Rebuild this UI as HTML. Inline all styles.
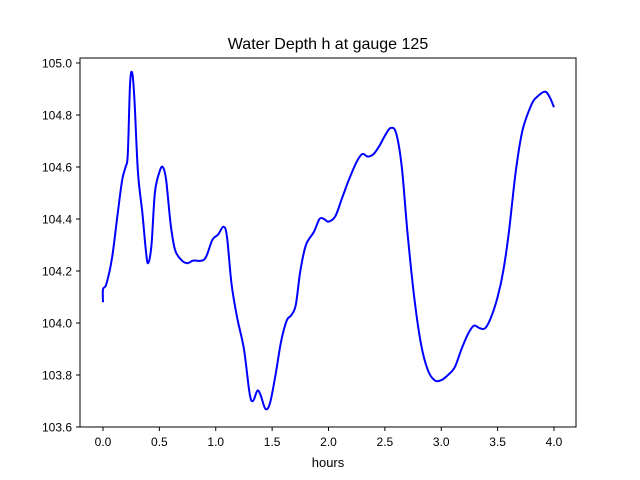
<!DOCTYPE html>
<html><head><meta charset="utf-8"><style>body{margin:0;background:#fff}svg{display:block;font-family:"Liberation Sans","DejaVu Sans",sans-serif}</style></head>
<body>
<svg id="chart" width="640" height="480">
<rect width="640" height="480" fill="#fff"/>
<text x="328" y="49" text-anchor="middle" font-size="16">Water Depth h at gauge 125</text>
<text x="328" y="467" text-anchor="middle" font-size="13">hours</text>
<g id="ticks"></g>
<path id="line" fill="none" stroke="#0000ff" stroke-width="2"/>
<rect x="80" y="58" width="496" height="369" fill="none" stroke="#000" stroke-width="1"/>
</svg>
<script>
const times=[0,0,0.03,0.08,0.13,0.17,0.2,0.22,0.24,0.26,0.28,0.31,0.35,0.38,0.4,0.43,0.46,0.5,0.53,0.56,0.6,0.64,0.7,0.75,0.8,0.88,0.92,0.97,1.02,1.07,1.1,1.14,1.19,1.25,1.3,1.33,1.37,1.4,1.44,1.48,1.53,1.58,1.63,1.67,1.71,1.75,1.8,1.87,1.92,1.96,2.0,2.06,2.12,2.18,2.25,2.3,2.35,2.4,2.45,2.5,2.55,2.6,2.65,2.7,2.76,2.82,2.88,2.94,3.0,3.06,3.12,3.18,3.24,3.29,3.34,3.39,3.44,3.5,3.55,3.6,3.66,3.72,3.8,3.85,3.92,3.96,4.0];
const depths=[104.08,104.13,104.15,104.25,104.42,104.55,104.6,104.65,104.92,104.96,104.85,104.58,104.42,104.28,104.23,104.3,104.5,104.58,104.6,104.55,104.38,104.28,104.24,104.23,104.24,104.24,104.26,104.32,104.34,104.37,104.33,104.15,104.02,103.9,103.73,103.7,103.74,103.72,103.67,103.69,103.8,103.93,104.01,104.03,104.07,104.2,104.3,104.35,104.4,104.4,104.39,104.41,104.48,104.55,104.62,104.65,104.64,104.65,104.68,104.72,104.75,104.73,104.6,104.35,104.1,103.92,103.82,103.78,103.78,103.8,103.83,103.9,103.96,103.99,103.98,103.98,104.02,104.1,104.2,104.35,104.58,104.74,104.84,104.87,104.89,104.87,104.83];
const xTicks=["0.0","0.5","1.0","1.5","2.0","2.5","3.0","3.5","4.0"];
const yTicks=["103.6","103.8","104.0","104.2","104.4","104.6","104.8","105.0"];
const X=v=>103+(v-0)*112.75;
const Y=v=>427-(v-103.6)*260;
const ns="http://www.w3.org/2000/svg";
const g=document.getElementById('ticks');
function mk(t,a){const e=document.createElementNS(ns,t);for(const k in a)e.setAttribute(k,a[k]);g.appendChild(e);return e;}
xTicks.forEach(t=>{const x=X(parseFloat(t));
const l=mk('line',{x1:x,x2:x,y1:427,y2:431,stroke:'#000'});


const s=mk('text',{x:x,y:446,'text-anchor':'middle','font-size':12});s.textContent=t;

});
yTicks.forEach(t=>{const y=Y(parseFloat(t));
const l=mk('line',{x1:76,x2:80,y1:y,y2:y,stroke:'#000'});


const s=mk('text',{x:72,y:y+4.5,'text-anchor':'end','font-size':12});s.textContent=t;

});
const P=times.map((t,i)=>[X(t),Y(depths[i])]);
let d='M'+P[0][0]+','+P[0][1];
for(let i=0;i<P.length-1;i++){const p0=P[Math.max(i-1,0)],p1=P[i],p2=P[i+1],p3=P[Math.min(i+2,P.length-1)];
d+=` C${p1[0]+(p2[0]-p0[0])/6},${p1[1]+(p2[1]-p0[1])/6} ${p2[0]-(p3[0]-p1[0])/6},${p2[1]-(p3[1]-p1[1])/6} ${p2[0]},${p2[1]}`;}
document.getElementById('line').setAttribute('d',d);
</script>
</body></html>
